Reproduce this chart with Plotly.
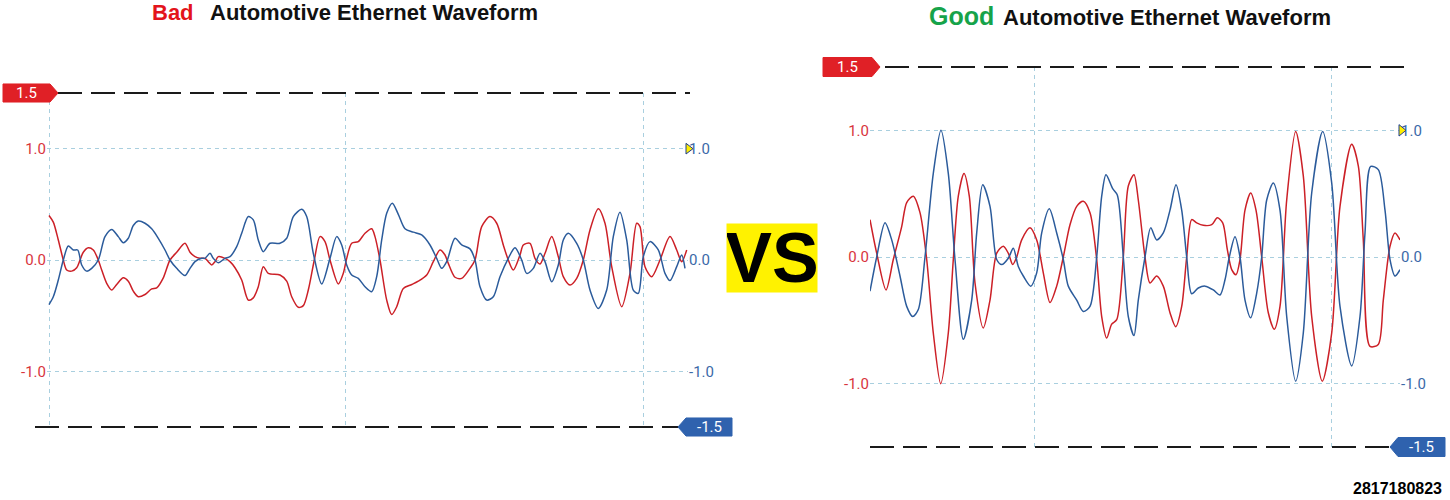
import plotly.graph_objects as go

# ---------------- data ----------------
# Left panel ("Bad"), sample index vs. volts
bad_t_red = [0, 4.3, 9.3, 14.3, 17.7, 22.7, 27.7, 31, 34.3, 39.3, 44.3, 49.3, 52.7, 57.7, 62.7, 67.7,
             74.3, 79.3, 84.3, 89.3, 96, 102.7, 107.7, 114.3, 121, 127.7, 136, 141, 146, 151, 156,
             159.3, 162.7, 166, 169.3, 176, 181, 186, 192.7, 199.3, 204.3, 209.3, 214.3, 219.3, 231,
             237.7, 242.7, 249.3, 254.3, 259.3, 265.3, 271, 276, 281, 289.3, 294.3, 297.7, 302.7,
             309.3, 316, 322.7, 326, 331, 337.7, 342.7, 347.7, 354.3, 362.7, 369.3, 377.7, 384.3,
             391, 396, 399.3, 406, 412.7, 421, 426, 432.7, 441, 447.7, 454.3, 459.3, 464.3, 471,
             474.3, 481, 486, 491, 496, 502.7, 509.3, 514.3, 521, 527.7, 534.3, 541, 549.3, 556,
             562.7, 572.7, 581, 587.7, 591, 596, 602.7, 611, 621, 627.7, 632.7, 637.7]
bad_red = [0.40, 0.34, 0.18, 0.0, -0.09, -0.10, -0.07, 0.0, 0.07, 0.11, 0.09, 0.0, -0.09, -0.21, -0.27,
           -0.22, -0.16, -0.19, -0.28, -0.33, -0.31, -0.26, -0.25, -0.16, 0.0, 0.07, 0.15, 0.07, 0.03,
           0.015, 0.015, -0.015, -0.045, -0.015, 0.03, 0.015, -0.015, -0.07, -0.18, -0.36, -0.34,
           -0.24, -0.06, -0.12, -0.135, -0.19, -0.33, -0.425, -0.41, -0.27, 0.0, 0.21, 0.165, 0.0,
           -0.215, -0.12, 0.015, 0.15, 0.165, 0.24, 0.28, 0.21, 0.0, -0.36, -0.49, -0.42, -0.255,
           -0.22, -0.19, -0.135, -0.015, 0.09, 0.045, -0.03, -0.155, -0.165, -0.075, 0.0, 0.30,
           0.39, 0.33, 0.135, 0.0, -0.09, 0.045, 0.135, 0.15, 0.015, -0.035, 0.06, 0.21, 0.03,
           -0.15, -0.225, -0.165, 0.0, 0.27, 0.46, 0.33, -0.06, -0.42, -0.12, 0.33, 0.30, -0.06,
           -0.15, 0.0, 0.21, 0.09, -0.015, 0.09]

bad_t_blue = [0, 4.3, 9.3, 14.3, 19.3, 24.3, 28.7, 32.7, 37.7, 42.7, 49.3, 56, 62.7, 69.3, 74.3, 79.3,
              84.3, 89.3, 96, 102.7, 109.3, 116, 121, 127.7, 136, 141, 146, 152.7, 156, 161, 164.3,
              169.3, 176, 181, 187.7, 192.7, 199.3, 204.3, 209.3, 214.3, 221, 231, 237.7, 244.3,
              252.7, 257.7, 264.3, 272.7, 281, 287.7, 292.7, 297.7, 302.7, 309.3, 316, 322.7, 327.7,
              332.7, 337.7, 343.3, 349.3, 356, 364.3, 372.7, 381, 387.7, 392.7, 397.7, 406, 412.7,
              421, 426, 431, 437.7, 444.3, 451, 459.3, 466, 472.7, 477.7, 484.3, 491, 496, 502.7,
              509.3, 514.3, 519.3, 527.7, 534.3, 541, 549.3, 557.7, 564.3, 571, 577.7, 584.3, 589.3,
              594.3, 601, 609.3, 616, 621, 627.7, 632.7, 636]
bad_blue = [-0.40, -0.33, -0.18, 0.0, 0.125, 0.09, 0.09, -0.045, -0.10, -0.075, 0.0, 0.21, 0.275, 0.21,
            0.155, 0.195, 0.31, 0.35, 0.33, 0.28, 0.195, 0.09, 0.0, -0.075, -0.14, -0.075, -0.015,
            0.015, 0.015, 0.06, 0.015, -0.025, 0.015, 0.03, 0.12, 0.24, 0.39, 0.36, 0.18, 0.075,
            0.15, 0.15, 0.195, 0.39, 0.455, 0.39, 0.06, -0.215, 0.015, 0.21, 0.135, -0.045, -0.135,
            -0.165, -0.24, -0.285, -0.15, 0.18, 0.42, 0.51, 0.41, 0.28, 0.25, 0.225, 0.135, 0.015,
            -0.075, -0.015, 0.195, 0.135, 0.10, 0.0, -0.24, -0.36, -0.33, -0.15, 0.015, 0.11, 0.0,
            -0.12, -0.075, 0.06, -0.015, -0.195, -0.045, 0.18, 0.24, 0.15, 0.0, -0.27, -0.435, -0.27,
            0.21, 0.43, 0.18, -0.27, -0.30, 0.03, 0.165, 0.09, -0.12, -0.185, -0.06, 0.045, -0.075]

# Right panel ("Good")
good_t_red = [0, 6.7, 16, 23.3, 31.7, 36.7, 43.3, 50, 56.7, 63.3, 70.7, 78.3, 83.3, 88.3, 94, 99.3,
              105, 113.3, 120, 126.7, 133.3, 138.3, 142.7, 146.7, 151.7, 160, 166.7, 173.3, 180,
              186.7, 193.3, 200, 206.7, 213.3, 220, 226.7, 231.7, 236.7, 241.7, 246.7, 253.3, 258.3,
              264, 268.3, 275, 280, 286.7, 293.3, 300, 305.7, 311.7, 316.7, 321.7, 326.7, 333.3,
              341.7, 347.3, 352.7, 357.3, 361.7, 366, 370, 375, 380.7, 386, 391.7, 398.3, 404.3,
              410, 416.7, 425.7, 433.3, 441.7, 452.3, 461.7, 470, 481.7, 488.3, 493.3, 500, 508.3,
              513.3, 520, 525, 530]
good_red = [0.295, 0.03, -0.26, -0.02, 0.24, 0.43, 0.48, 0.35, -0.02, -0.60, -1.0, -0.60, -0.02, 0.48,
            0.66, 0.48, -0.205, -0.56, -0.34, 0.03, 0.085, 0.03, -0.06, 0.0, 0.135, 0.23, 0.135,
            -0.125, -0.36, -0.23, 0.0, 0.255, 0.40, 0.44, 0.35, -0.02, -0.47, -0.64, -0.53, -0.495,
            0.0, 0.56, 0.65, 0.45, 0.0, -0.205, -0.15, -0.23, -0.44, -0.55, -0.39, 0.0, 0.295, 0.27,
            0.25, 0.255, 0.31, 0.27, 0.06, -0.10, -0.14, -0.02, 0.37, 0.505, 0.37, 0.0, -0.44, -0.57,
            -0.39, 0.45, 0.99, 0.64, -0.47, -0.98, -0.60, 0.40, 0.89, 0.72, 0.135, -0.705, -0.69,
            -0.34, 0.085, 0.19, 0.135]

good_t_blue = [0, 6.7, 15, 21.7, 30, 36.7, 42.7, 48.3, 55, 63.3, 71, 78.3, 85, 93.3, 101.7, 106.7,
               112.7, 120, 126.7, 131.7, 138.3, 143.3, 148.3, 153.3, 160.7, 166.7, 171.7, 179.3,
               186.7, 193.3, 198.3, 206.7, 213.3, 220, 226.7, 231.7, 236, 242.7, 247.3, 253.3, 258.3,
               264, 268.3, 275, 280.7, 286.7, 293.3, 300, 306, 311.7, 316.7, 321.7, 328.3, 335,
               343.3, 350, 355, 359.3, 365, 370, 375, 380.7, 386.7, 391.7, 396.7, 403.3, 410, 416.7,
               425.7, 433.3, 441.7, 452.7, 461.7, 470, 481.7, 490, 495, 500.7, 508.3, 515, 520, 525, 530]
good_blue = [-0.27, 0.0, 0.27, 0.135, -0.15, -0.39, -0.47, -0.415, 0.0, 0.66, 1.0, 0.66, -0.02, -0.65,
             -0.34, 0.19, 0.57, 0.40, -0.02, -0.06, -0.01, 0.07, -0.075, -0.15, -0.23, -0.125, 0.19,
             0.38, 0.19, -0.02, -0.23, -0.34, -0.43, -0.39, 0.0, 0.48, 0.65, 0.54, 0.49, 0.0, -0.47,
             -0.62, -0.34, 0.0, 0.23, 0.135, 0.19, 0.37, 0.57, 0.37, 0.0, -0.29, -0.245, -0.23, -0.26,
             -0.30, -0.18, 0.0, 0.16, 0.0, -0.34, -0.48, -0.285, 0.0, 0.45, 0.585, 0.37, -0.47, -0.98,
             -0.60, 0.505, 0.99, 0.585, -0.39, -0.86, -0.47, 0.19, 0.715, 0.69, 0.37, -0.02, -0.15, -0.10]

y_range = [-1.5, 1.5]
y_tick_vals = [-1.0, 0.0, 1.0]
y_tick_text = ["-1.0", "0.0", "1.0"]
bad_grid_t = [0, 296, 594]
good_grid_t = [164, 461]
cursor_levels = [1.5, -1.5]
cursor_labels = ["1.5", "-1.5"]
level_marker_value = 1.0

# ---------------- styling ----------------
W, H = 1450, 500
RED = "#cc2027"
BLUE = "#2b5b9b"
RED_LBL = "#d8343d"
BLUE_LBL = "#3b69a8"
GRID = "#a9cfdf"


def px(x):
    return x / W


def py(y):
    return 1 - y / H


def dom(v):
    return (v - y_range[0]) / (y_range[1] - y_range[0])


fig = go.Figure()
line_kw = dict(shape="spline", smoothing=0.8, width=1.5)
fig.add_trace(go.Scatter(x=bad_t_red, y=bad_red, mode="lines", line=dict(color=RED, **line_kw),
                         xaxis="x", yaxis="y", showlegend=False, hoverinfo="skip"))
fig.add_trace(go.Scatter(x=bad_t_blue, y=bad_blue, mode="lines", line=dict(color=BLUE, **line_kw),
                         xaxis="x", yaxis="y3", showlegend=False, hoverinfo="skip"))
fig.add_trace(go.Scatter(x=good_t_red, y=good_red, mode="lines", line=dict(color=RED, **line_kw),
                         xaxis="x2", yaxis="y2", showlegend=False, hoverinfo="skip"))
fig.add_trace(go.Scatter(x=good_t_blue, y=good_blue, mode="lines", line=dict(color=BLUE, **line_kw),
                         xaxis="x2", yaxis="y4", showlegend=False, hoverinfo="skip"))

tick_font = dict(family="Roboto, Arial, sans-serif", size=15)
xcommon = dict(showticklabels=False, ticks="", showgrid=True, gridcolor=GRID, gridwidth=1,
               griddash="4px,4px", zeroline=False, showline=False, tickmode="array")
ycommon = dict(range=y_range, tickmode="array", tickvals=y_tick_vals, ticktext=y_tick_text,
               zeroline=False, showline=False, ticks="")

fig.update_layout(
    width=W, height=H, margin=dict(l=0, r=0, t=0, b=0),
    paper_bgcolor="white", plot_bgcolor="rgba(0,0,0,0)",
    xaxis=dict(domain=[px(47), px(688)], range=[-2, 639], tickvals=bad_grid_t, anchor="y", **xcommon),
    yaxis=dict(domain=[py(427), py(93)], anchor="x", showgrid=True, gridcolor=GRID, griddash="4px,4px",
               tickfont=dict(color=RED_LBL, **tick_font), **ycommon),
    yaxis3=dict(overlaying="y", side="right", anchor="x", showgrid=False,
                tickfont=dict(color=BLUE_LBL, **tick_font), **ycommon),
    xaxis2=dict(domain=[px(870), px(1400)], range=[0, 530], tickvals=good_grid_t, anchor="y2", **xcommon),
    yaxis2=dict(domain=[py(447), py(67)], anchor="x2", showgrid=True, gridcolor=GRID, griddash="4px,4px",
                tickfont=dict(color=RED_LBL, **tick_font), **ycommon),
    yaxis4=dict(overlaying="y2", side="right", anchor="x2", showgrid=False,
                tickfont=dict(color=BLUE_LBL, **tick_font), **ycommon),
)

shapes = []
annotations = []
DASH = "24px,9px"


def cursor_line(x0, x1, yref, level):
    shapes.append(dict(type="line", xref="paper", yref=yref, x0=px(x0), x1=px(x1),
                       y0=dom(level), y1=dom(level),
                       line=dict(color="#1a1a1a", width=2, dash=DASH), layer="above"))


def tag(x_left, x_right, tip, yref, level, half, color, text):
    c = dom(level)
    if tip > x_right:
        path = (f"M {px(x_left)},{c - half} L {px(x_right)},{c - half} L {px(tip)},{c} "
                f"L {px(x_right)},{c + half} L {px(x_left)},{c + half} Z")
    else:
        path = (f"M {px(tip)},{c} L {px(x_left)},{c - half} L {px(x_right)},{c - half} "
                f"L {px(x_right)},{c + half} L {px(x_left)},{c + half} Z")
    shapes.append(dict(type="path", xref="paper", yref=yref, path=path, fillcolor=color,
                       line=dict(color=color, width=1), layer="above"))
    annotations.append(dict(x=px((x_left + x_right) / 2), y=c, xref="paper", yref=yref,
                            text=text, showarrow=False, xanchor="center", yanchor="middle",
                            font=dict(family="Roboto, Arial, sans-serif", size=15, color="white")))


def level_marker(xpix, yref, half):
    c = dom(level_marker_value)
    path = f"M {px(xpix)},{c - half} L {px(xpix + 7)},{c} L {px(xpix)},{c + half} Z"
    shapes.append(dict(type="path", xref="paper", yref=yref, path=path, fillcolor="#ffee00",
                       line=dict(color="#1f3f8f", width=1), layer="above"))


# Bad panel cursors
cursor_line(58, 690, "y domain", cursor_levels[0])
cursor_line(35, 679, "y domain", cursor_levels[1])
tag(3, 50, 58, "y domain", cursor_levels[0], 0.027, "#e02026", cursor_labels[0])
tag(686, 732, 678, "y domain", cursor_levels[1], 0.027, "#2f62ae", cursor_labels[1])
level_marker(686, "y domain", 0.016)

# Good panel cursors
cursor_line(885, 1405, "y2 domain", cursor_levels[0])
cursor_line(870, 1391, "y2 domain", cursor_levels[1])
tag(823, 872, 880, "y2 domain", cursor_levels[0], 0.025, "#e02026", cursor_labels[0])
tag(1398, 1445, 1390, "y2 domain", cursor_levels[1], 0.025, "#2f62ae", cursor_labels[1])
level_marker(1399, "y2 domain", 0.015)

# Titles
title_font = "Liberation Sans, Arial, sans-serif"
annotations.append(dict(x=px(196), y=py(12), xref="paper", yref="paper", text="<b>Bad</b>",
                        showarrow=False, xanchor="right", yanchor="middle",
                        font=dict(family=title_font, size=22, color="#e3141b")))
annotations.append(dict(x=px(208), y=py(12), xref="paper", yref="paper",
                        text="<b>Automotive Ethernet Waveform</b>", showarrow=False,
                        xanchor="left", yanchor="middle", font=dict(family=title_font, size=22, color="#111111")))
annotations.append(dict(x=px(996), y=py(16), xref="paper", yref="paper", text="<b>Good</b>",
                        showarrow=False, xanchor="right", yanchor="middle",
                        font=dict(family=title_font, size=25, color="#16a34a")))
annotations.append(dict(x=px(1001), y=py(17), xref="paper", yref="paper",
                        text="<b>Automotive Ethernet Waveform</b>", showarrow=False,
                        xanchor="left", yanchor="middle", font=dict(family=title_font, size=22, color="#111111")))

# VS badge
annotations.append(dict(x=px(772), y=py(258), xref="paper", yref="paper", text="<b>VS</b>",
                        showarrow=False, xanchor="center", yanchor="middle", width=90, height=68,
                        bgcolor="#fff200", borderpad=0,
                        font=dict(family=title_font, size=70, color="black")))

# Image id
annotations.append(dict(x=px(1444), y=py(488), xref="paper", yref="paper", text="<b>2817180823</b>",
                        showarrow=False, xanchor="right", yanchor="middle",
                        font=dict(family=title_font, size=16, color="black")))

fig.update_layout(shapes=shapes, annotations=annotations)
fig.write_html("out.html", config={"displayModeBar": False},
               post_script="document.body.style.margin='0px';")
